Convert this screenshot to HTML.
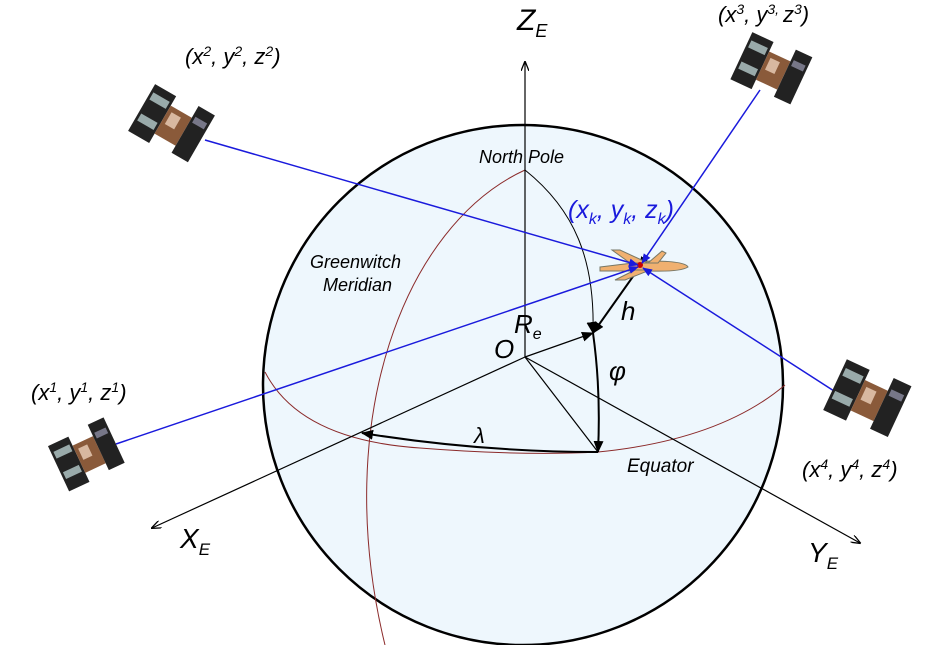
<!DOCTYPE html>
<html><head><meta charset="utf-8"><style>
html,body{margin:0;padding:0;background:#fff;}
svg{display:block;}
text{font-family:"Liberation Sans",sans-serif;font-style:italic;}
</style></head><body>
<svg width="926" height="645" viewBox="0 0 926 645" xmlns="http://www.w3.org/2000/svg">
<defs>
<marker id="ah" markerWidth="10" markerHeight="8" refX="9" refY="4" orient="auto" markerUnits="userSpaceOnUse"><path d="M0,0 L10,4 L0,8" fill="none" stroke="#000" stroke-width="1.3"/></marker>
<marker id="af" markerWidth="12" markerHeight="10" refX="11" refY="5" orient="auto" markerUnits="userSpaceOnUse"><path d="M0,0 L12,5 L0,10 Z" fill="#000"/></marker>
<marker id="ab" markerWidth="10" markerHeight="8" refX="9" refY="4" orient="auto" markerUnits="userSpaceOnUse"><path d="M0,0 L10,4 L0,8 Z" fill="#1a1adc"/></marker>
<g id="sat">
<rect x="-26" y="-20" width="18" height="40" fill="#222"/>
<rect x="-24" y="-14" width="14" height="6" fill="#9aa"/>
<rect x="-24" y="4" width="14" height="6" fill="#9aa"/>
<rect x="-8" y="-12" width="18" height="24" fill="#8a5a3a"/>
<rect x="-5" y="-8" width="8" height="10" fill="#d8b8a0"/>
<rect x="10" y="-22" width="14" height="40" fill="#222"/>
<rect x="12" y="-14" width="10" height="5" fill="#778"/>
</g>
</defs>
<circle cx="523" cy="385" r="260" fill="#eef7fd" stroke="#000" stroke-width="2.5"/>
<path d="M265,372 Q300,440 420,448 Q520,456 598,452 Q720,440 785,385" fill="none" stroke="#8b2a2a" stroke-width="1"/>
<path d="M525,170 C405,225 330,420 385,645" fill="none" stroke="#8b2a2a" stroke-width="1"/>
<path d="M525,170 C575,210 595,260 593,333" fill="none" stroke="#000" stroke-width="1"/>
<line x1="525" y1="357" x2="525" y2="62" stroke="#000" stroke-width="1.2" marker-end="url(#ah)"/>
<line x1="525" y1="357" x2="152" y2="528" stroke="#000" stroke-width="1.2" marker-end="url(#ah)"/>
<line x1="525" y1="357" x2="860" y2="543" stroke="#000" stroke-width="1.2" marker-end="url(#ah)"/>
<line x1="525" y1="357" x2="593" y2="333" stroke="#000" stroke-width="1.2" marker-end="url(#af)"/>
<line x1="525" y1="357" x2="598" y2="452" stroke="#000" stroke-width="1.2"/>
<path d="M593,333 Q601,390 598,452" fill="none" stroke="#000" stroke-width="2" marker-start="url(#af)" marker-end="url(#af)"/>
<path d="M598,452 Q480,452 362,433" fill="none" stroke="#000" stroke-width="2" marker-end="url(#af)"/>
<line x1="639" y1="268" x2="593" y2="333" stroke="#000" stroke-width="2" marker-start="url(#af)" marker-end="url(#af)"/>
<g transform="translate(640,265)">
<path d="M-40,2 L10,-4 Q45,-4 48,2 Q40,7 10,6 L-40,6 Z" fill="#f0b070" stroke="#776" stroke-width="1"/>
<path d="M-10,-2 L-28,-15 L-20,-15 L8,-2 Z" fill="#f0b070" stroke="#776"/>
<path d="M-5,5 L-25,15 L-15,15 L10,5 Z" fill="#f0b070" stroke="#776"/>
<path d="M8,-2 L22,-14 L26,-12 L18,-2 Z" fill="#f0b070" stroke="#776"/>
<circle cx="0" cy="0" r="3" fill="#c00"/>
</g>
<line x1="205" y1="140" x2="638" y2="265" stroke="#1a1adc" stroke-width="1.5" marker-end="url(#ab)"/>
<line x1="116" y1="444" x2="638" y2="267" stroke="#1a1adc" stroke-width="1.5" marker-end="url(#ab)"/>
<line x1="760" y1="90" x2="642" y2="263" stroke="#1a1adc" stroke-width="1.5" marker-end="url(#ab)"/>
<line x1="848" y1="400" x2="643" y2="268" stroke="#1a1adc" stroke-width="1.5" marker-end="url(#ab)"/>
<use href="#sat" transform="translate(172,125) rotate(30) scale(1.35)"/>
<use href="#sat" transform="translate(88,455) rotate(-25) scale(1.25)"/>
<use href="#sat" transform="translate(772,70) rotate(25) scale(1.3)"/>
<use href="#sat" transform="translate(868,400) rotate(25) scale(1.4)"/>
<text x="517" y="30" font-size="30">Z<tspan font-size="18" dy="7">E</tspan></text>
<text x="180" y="548" font-size="28">X<tspan font-size="17" dy="7">E</tspan></text>
<text x="808" y="562" font-size="28">Y<tspan font-size="17" dy="7">E</tspan></text>
<text x="479" y="163" font-size="18">North Pole</text>
<text x="310" y="268" font-size="18">Greenwitch</text>
<text x="323" y="291" font-size="18">Meridian</text>
<text x="627" y="472" font-size="19">Equator</text>
<text x="494" y="358" font-size="26">O</text>
<text x="514" y="333" font-size="26">R<tspan font-size="16" dy="6">e</tspan></text>
<text x="621" y="320" font-size="26">h</text>
<text x="609" y="380" font-size="26">φ</text>
<text x="474" y="443" font-size="22">λ</text>
<text x="568" y="218" font-size="25" fill="#1a1adc">(x<tspan font-size="16" dy="6">k</tspan><tspan dy="-6">, y</tspan><tspan font-size="16" dy="6">k</tspan><tspan dy="-6">, z</tspan><tspan font-size="16" dy="6">k</tspan><tspan dy="-6">)</tspan></text>
<text x="185" y="64" font-size="22">(x<tspan font-size="14" dy="-8">2</tspan><tspan dy="8">, y</tspan><tspan font-size="14" dy="-8">2</tspan><tspan dy="8">, z</tspan><tspan font-size="14" dy="-8">2</tspan><tspan dy="8">)</tspan></text>
<text x="718" y="22" font-size="22">(x<tspan font-size="14" dy="-8">3</tspan><tspan dy="8">, y</tspan><tspan font-size="14" dy="-8">3, </tspan><tspan dy="8">z</tspan><tspan font-size="14" dy="-8">3</tspan><tspan dy="8">)</tspan></text>
<text x="31" y="400" font-size="22">(x<tspan font-size="14" dy="-8">1</tspan><tspan dy="8">, y</tspan><tspan font-size="14" dy="-8">1</tspan><tspan dy="8">, z</tspan><tspan font-size="14" dy="-8">1</tspan><tspan dy="8">)</tspan></text>
<text x="802" y="477" font-size="22">(x<tspan font-size="14" dy="-8">4</tspan><tspan dy="8">, y</tspan><tspan font-size="14" dy="-8">4</tspan><tspan dy="8">, z</tspan><tspan font-size="14" dy="-8">4</tspan><tspan dy="8">)</tspan></text>
</svg>
</body></html>
